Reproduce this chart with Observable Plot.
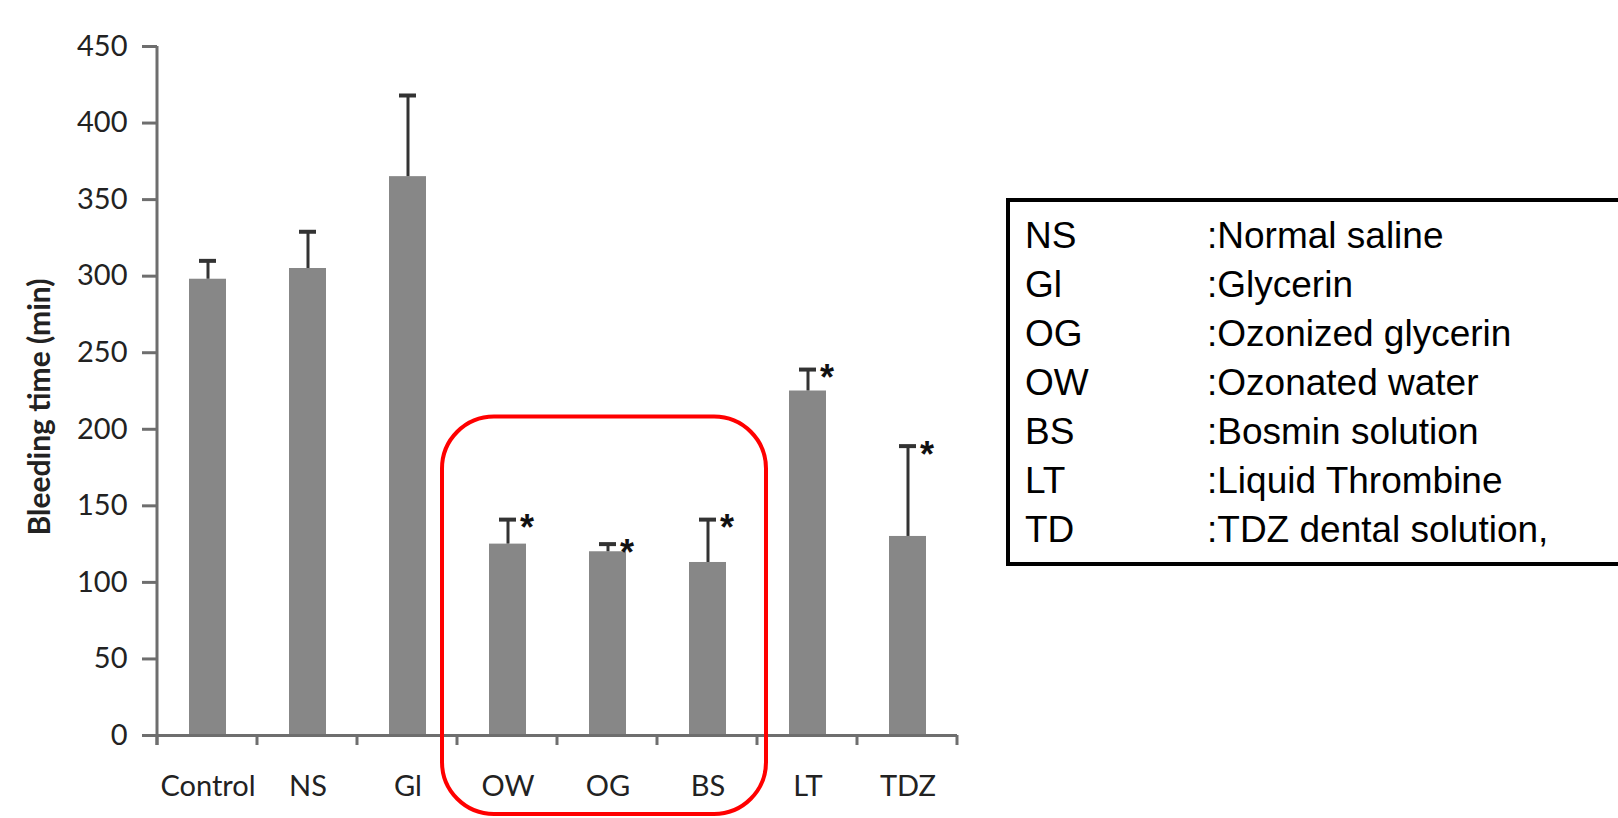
<!DOCTYPE html>
<html><head><meta charset="utf-8">
<script src="https://cdn.jsdelivr.net/npm/d3@7"></script>
<script src="https://cdn.jsdelivr.net/npm/@observablehq/plot@0.6"></script>
<style>
html,body{margin:0;padding:0;background:#fff;overflow:hidden;}
#wrap{position:relative;width:1618px;height:818px;overflow:hidden;}
#legend{position:absolute;left:1006px;top:198px;width:700px;height:351px;border:4px solid #000;padding-top:9px;padding-left:15px;font-family:"Liberation Sans",Arial,sans-serif;font-size:37px;line-height:49px;color:#000;}
#legend .ab{display:inline-block;width:182px;}
</style>
</head><body>
<div id="wrap"><div id="legend"></div></div>
<script>
const cats = ["Control","NS","Gl","OW","OG","BS","LT","TDZ"];
const means = [298, 305, 365, 125, 120, 113, 225, 130];
const upper = [310, 329, 418, 141, 125, 141, 239, 189];
const sig = [false, false, false, true, true, true, true, true];
const yTicks = [0,50,100,150,200,250,300,350,400,450];
const legendAbbr = ["NS","Gl","OG","OW","BS","LT","TD"];
const legendDesc = [":Normal saline",":Glycerin",":Ozonized glycerin",":Ozonated water",":Bosmin solution",":Liquid Thrombine",":TDZ dental solution,"];

const data = cats.map((c,i)=>({cat:c, mean:means[i], upper:upper[i], sig:sig[i]}));

const W = 1618, H = 818, mL = 157, mR = 661, mT = 46, mB = 83;
const plot = Plot.plot({
  width: W, height: H, marginLeft: mL, marginRight: mR, marginTop: mT, marginBottom: mB,
  x: {domain: cats, paddingInner: 0.63, paddingOuter: 0.315, axis: null},
  y: {domain: [0, 450], axis: null},
  style: {fontFamily: "Lato, sans-serif", background: "white", overflow: "visible"},
  marks: [
    Plot.barY(data, {x: "cat", y: "mean", fill: "#878787"}),
    Plot.ruleX(data, {x: "cat", y1: "mean", y2: "upper", stroke: "#333", strokeWidth: 3}),
    Plot.tickY(data, {x: "cat", y: "upper", stroke: "#333", strokeWidth: 4, insetLeft: 10, insetRight: 10}),
    Plot.text(data.filter(d => d.sig), {x: "cat", y: "upper", text: () => "*", dx: 19, dy: 9, fontSize: 36, fontWeight: "bold", fill: "#111", fontFamily: "Liberation Sans"}),
    Plot.ruleY([0], {stroke: "#6e6e6e", strokeWidth: 3}),
    Plot.axisY({ticks: yTicks, tickSize: 15, tickPadding: 15, stroke: "#6e6e6e", strokeWidth: 3, fill: "#222", fontSize: 29, label: null}),
    Plot.text(cats, {x: d => d, frameAnchor: "bottom", dy: 60, fontSize: 29, fill: "#222"}),
    Plot.text(["Bleeding time (min)"], {frameAnchor: "left", textAnchor: "middle", dx: -117, dy: 16, rotate: -90, fontSize: 30, fontWeight: "bold", fill: "#222"})
  ]
});

const svg = d3.select(plot);
const ys = plot.scale("y");
const step = (W - mL - mR) / cats.length;
const y0 = ys.apply(0);
svg.append("line").attr("x1", mL).attr("x2", mL).attr("y1", ys.apply(450)).attr("y2", y0 + 10)
  .attr("stroke", "#6e6e6e").attr("stroke-width", 3);
for (let i = 0; i <= cats.length; i++) {
  svg.append("line").attr("x1", mL + i*step).attr("x2", mL + i*step).attr("y1", y0).attr("y2", y0 + 10)
    .attr("stroke", "#6e6e6e").attr("stroke-width", 3);
}
const i0 = cats.indexOf("OW"), i1 = cats.indexOf("BS") + 1;
const rx0 = mL + i0*step - 15, rx1 = mL + i1*step + 9;
const ry0 = ys.apply(208), ry1 = y0 + 79;
svg.append("rect").attr("x", rx0).attr("y", ry0).attr("width", rx1 - rx0).attr("height", ry1 - ry0)
  .attr("rx", 52).attr("ry", 52).attr("fill", "none").attr("stroke", "#ff0000").attr("stroke-width", 4);

const wrap = document.getElementById("wrap");
wrap.insertBefore(plot, wrap.firstChild);
const lg = d3.select("#legend");
legendAbbr.forEach((a, i) => {
  const row = lg.append("div");
  row.append("span").attr("class", "ab").text(a);
  row.append("span").text(legendDesc[i]);
});
</script>
</body></html>
